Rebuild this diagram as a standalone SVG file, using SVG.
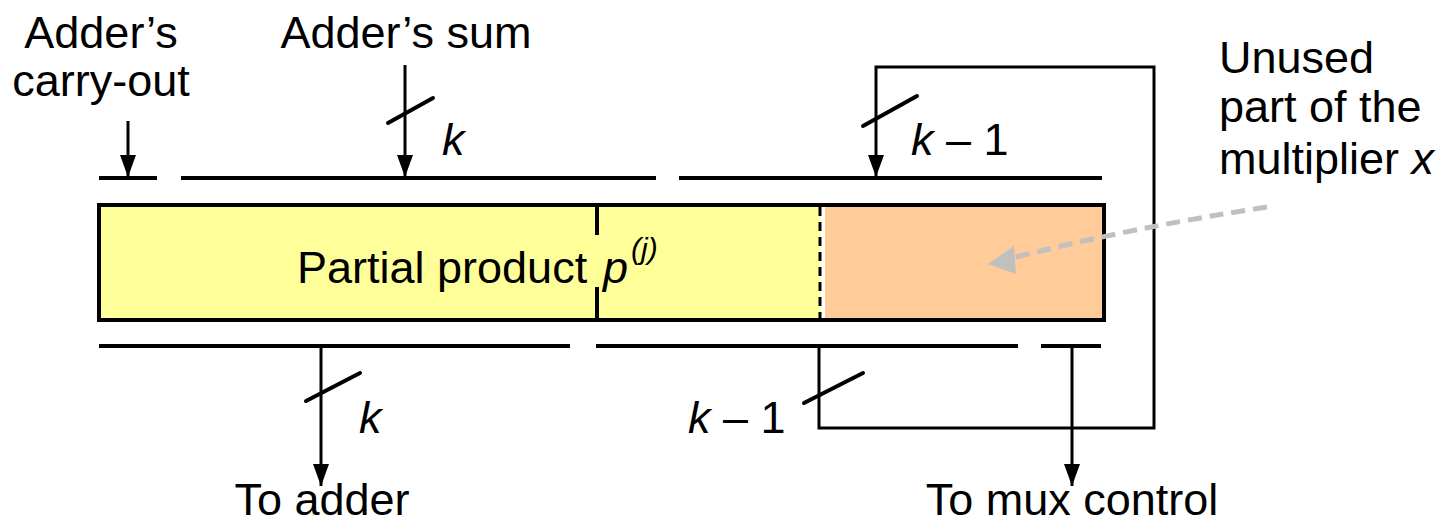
<svg xmlns="http://www.w3.org/2000/svg" width="1443" height="524" viewBox="0 0 1443 524">
<style>
  text { font-family: "Liberation Sans", Arial, sans-serif; font-size: 45px; fill: #000; }
  .it { font-style: italic; }
  .bus { stroke: #000; stroke-width: 4; fill: none; }
  .wire { stroke: #000; stroke-width: 3; fill: none; }
  .slash { stroke: #000; stroke-width: 4; fill: none; stroke-linecap: round; }
</style>
<defs>
  <marker id="ah" viewBox="0 0 22 16" refX="22" refY="8" markerWidth="22" markerHeight="16" markerUnits="userSpaceOnUse" orient="auto">
    <path d="M0,0 L22,8 L0,16 z" fill="#000"/>
  </marker>
</defs>
<rect width="1443" height="524" fill="#fff"/>

<g id="register">
  <rect x="99" y="205" width="722" height="115" fill="#FFFF99"/>
  <rect x="821" y="205" width="283" height="115" fill="#FFCC99"/>
  <line x1="597" y1="205" x2="597" y2="235" stroke="#000" stroke-width="4"/>
  <line x1="597" y1="287" x2="597" y2="320" stroke="#000" stroke-width="4"/>
  <line x1="823" y1="205" x2="823" y2="320" stroke="#fff" stroke-width="4"/>
  <line x1="820" y1="207" x2="820" y2="320" stroke="#000" stroke-width="3" stroke-dasharray="9 6"/>
  <rect x="99" y="205" width="1005" height="115" fill="none" stroke="#000" stroke-width="4"/>
  <text x="297" y="283">Partial product<tspan class="it" x="603">p</tspan><tspan class="it" font-size="30" dy="-24" dx="3">(j)</tspan></text>
</g>

<g id="top-bus">
  <line class="bus" x1="99" y1="178" x2="157" y2="178"/>
  <line class="bus" x1="181" y1="178" x2="656" y2="178"/>
  <line class="bus" x1="679" y1="178" x2="1102" y2="178"/>
</g>
<g id="bottom-bus">
  <line class="bus" x1="99" y1="346" x2="570" y2="346"/>
  <line class="bus" x1="596" y1="346" x2="1018" y2="346"/>
  <line class="bus" x1="1041" y1="346" x2="1101" y2="346"/>
</g>

<g id="labels">
  <text x="101" y="48" text-anchor="middle">Adder’s</text>
  <text x="101" y="96" text-anchor="middle">carry-out</text>
  <text x="406" y="48" text-anchor="middle">Adder’s sum</text>
  <text x="1219" y="73">Unused</text>
  <text x="1219" y="122">part of the</text>
  <text x="1219" y="174">multiplier <tspan class="it">x</tspan></text>
  <text x="322" y="515" text-anchor="middle">To adder</text>
  <text x="1072" y="515" text-anchor="middle">To mux control</text>
  <text x="442" y="155" class="it">k</text>
  <text x="911" y="155"><tspan class="it">k</tspan> – 1</text>
  <text x="359" y="433" class="it">k</text>
  <text x="688" y="433"><tspan class="it">k</tspan> – 1</text>
</g>

<g id="connectors">
  <line class="wire" x1="128" y1="121" x2="128" y2="177" marker-end="url(#ah)"/>
  <line class="wire" x1="405" y1="65" x2="405" y2="177" marker-end="url(#ah)"/>
  <line class="slash" x1="388" y1="123" x2="433" y2="98"/>
  <polyline class="wire" points="819,346 819,428 1154,428 1154,67 876,67 876,177" marker-end="url(#ah)"/>
  <line class="slash" x1="863" y1="126" x2="917" y2="96"/>
  <line class="slash" x1="804" y1="403" x2="863" y2="373"/>
  <line class="wire" x1="321" y1="346" x2="321" y2="486" marker-end="url(#ah)"/>
  <line class="slash" x1="306" y1="401" x2="360" y2="373"/>
  <line class="wire" x1="1072" y1="346" x2="1072" y2="486" marker-end="url(#ah)"/>
  <path d="M1267,207 Q1130,228 1012,258" fill="none" stroke="#C0C0C0" stroke-width="5" stroke-dasharray="14 8"/>
  <polygon points="988,264 1014,246 1016,274" fill="#C0C0C0"/>
</g>
</svg>
